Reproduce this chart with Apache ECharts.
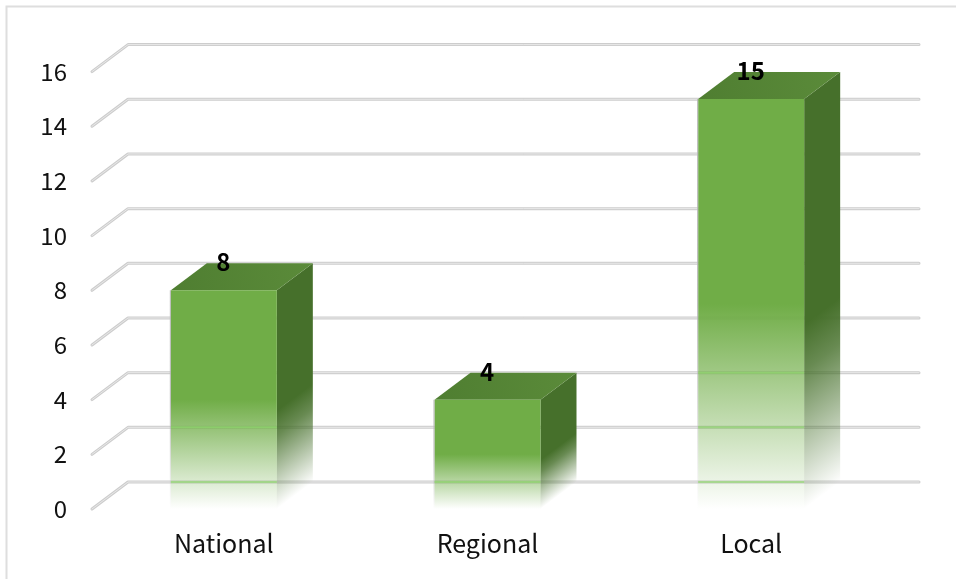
<!DOCTYPE html>
<html><head><meta charset="utf-8">
<script src="https://cdn.jsdelivr.net/npm/echarts@6/dist/echarts.min.js"></script>
<style>html,body{margin:0;padding:0;background:#fff}#c{width:956px;height:579px}</style>
</head><body><div id="c"></div>
<script>
const categories = ['National', 'Regional', 'Local'];
const values = [8, 4, 15];
const yTicks = [0, 2, 4, 6, 8, 10, 12, 14, 16];

const DX = 36, DY = -27, BAR_W = 106;
const FONT = '"Noto Sans CJK SC","Noto Sans",sans-serif';
const chart = echarts.init(document.getElementById('c'), null, {renderer: 'canvas'});
const G = echarts.graphic.LinearGradient;

function fade(hex) {
  return new G(0, 0, 0, 1, [
    {offset: 0, color: hex},
    {offset: 0.5, color: hex},
    {offset: 1, color: hex + '00'}
  ]);
}

function sideFade(hex, r, t, b) {
  const mid = t + (b - t) * 0.55;
  const dist = (b - mid) * 0.8;
  return new G(r, mid, r + 0.6 * dist, mid + 0.8 * dist, [
    {offset: 0, color: hex},
    {offset: 0.25, color: hex + 'd0'},
    {offset: 1, color: hex + '00'}
  ], true);
}

function renderGrid(params, api) {
  const x0 = params.coordSys.x, x1 = x0 + params.coordSys.width;
  const y = api.coord([0, api.value(0)])[1];
  const pts = [[x0, y], [x0 + DX, y + DY], [x1 + DX, y + DY]];
  return {type: 'group', children: [
    {type: 'polyline', shape: {points: pts}, style: {stroke: '#cdcdcd', lineWidth: 3, fill: null, lineCap: 'round', lineJoin: 'round'}},
    {type: 'polyline', shape: {points: pts}, style: {stroke: '#e8e8e8', lineWidth: 1, fill: null, lineCap: 'round', lineJoin: 'round'}}
  ]};
}

function renderBar(params, api) {
  const idx = api.value(0);
  const top = api.coord([idx, api.value(1)]);
  const base = api.coord([idx, 0]);
  const l = top[0] - BAR_W / 2, r = top[0] + BAR_W / 2, t = top[1], b = base[1];
  const mid = (t + b) / 2;
  const tint = yTicks.map(v => api.coord([idx, v])[1] + DY).filter(y => y > mid + 20 && y < b)
    .map(y => ({type: 'line', shape: {x1: l, y1: y, x2: r, y2: y},
      style: {stroke: '#8ed86a', lineWidth: 2, opacity: 0.6}}));
  return {type: 'group', children: [
    {type: 'polygon', shape: {points: [[r, t], [r + DX, t + DY], [r + DX, b + DY], [r, b]]},
      style: {fill: sideFade('#46702b', r, t, b)}},
    {type: 'polygon', shape: {points: [[l, t], [l + DX, t + DY], [r + DX, t + DY], [r, t]]},
      style: {fill: new G(0, 1, 1, 0, [{offset: 0, color: '#4f7e31'}, {offset: 1, color: '#5b8b3a'}])}},
    {type: 'rect', shape: {x: l, y: t, width: r - l, height: b - t},
      style: {fill: fade('#70ad47')}},
    {type: 'rect', shape: {x: l - 1, y: t, width: 1, height: b - t},
      style: {fill: fade('#b5b5b5')}}
  ].concat(tint, [
    {type: 'text', x: top[0] - 0.5, y: t + DY - 1,
      style: {text: String(api.value(1)), fill: '#000', font: 'bold 24px ' + FONT, align: 'center', verticalAlign: 'middle'}}
  ])};
}

chart.setOption({
  animation: false,
  backgroundColor: '#fff',
  graphic: [{type: 'rect', z: -10, shape: {x: 6.5, y: 6.5, width: 960, height: 590},
    style: {fill: '#fff', stroke: '#dedede', lineWidth: 2}}],
  grid: {left: 92, right: 73, top: 71.6, bottom: 70},
  xAxis: {type: 'category', data: categories, axisLine: {show: false}, axisTick: {show: false},
    axisLabel: {color: '#111', fontFamily: FONT, fontSize: 25, margin: 22}},
  yAxis: {type: 'value', min: 0, max: 16, interval: 2, axisLine: {show: false}, axisTick: {show: false},
    splitLine: {show: false},
    axisLabel: {color: '#111', fontFamily: FONT, fontSize: 24, margin: 25}},
  series: [
    {type: 'custom', coordinateSystem: 'cartesian2d', renderItem: renderGrid, silent: true, z: 1,
      encode: {y: 0}, data: yTicks.map(v => [v])},
    {type: 'custom', coordinateSystem: 'cartesian2d', renderItem: renderBar, silent: true, z: 2,
      encode: {x: 0, y: 1}, data: values.map((v, i) => [i, v])}
  ]
});
</script></body></html>
